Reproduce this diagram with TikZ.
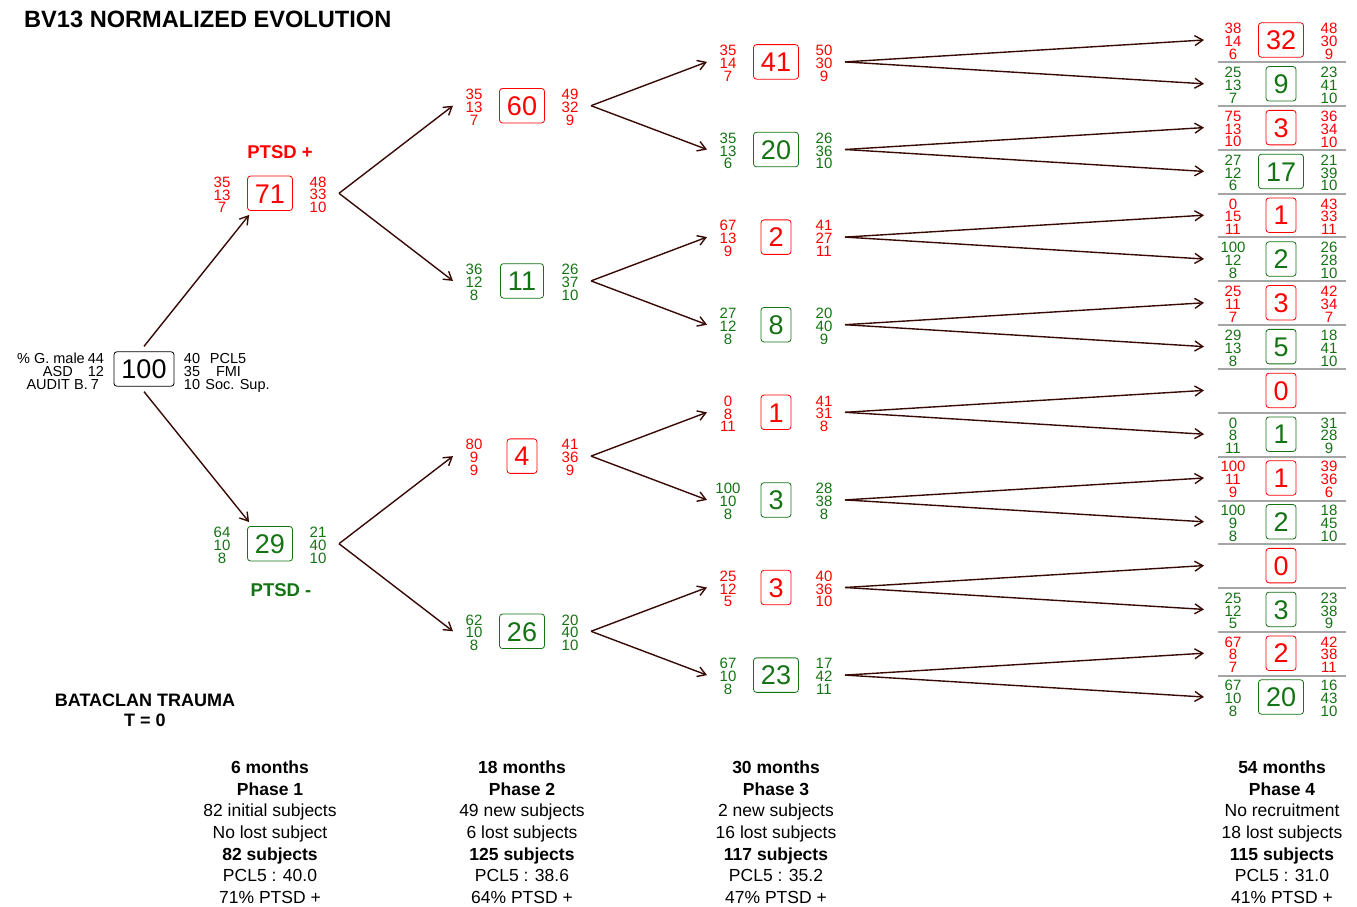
\documentclass[tikz,border=0pt]{standalone}
\usepackage{fontspec}
\setmainfont{Liberation Sans}
\usetikzlibrary{arrows.meta}
\definecolor{pred}{RGB}{255,0,0}
\definecolor{pgreen}{RGB}{20,115,20}
\definecolor{arrc}{RGB}{55,10,5}
\definecolor{sepc}{RGB}{165,165,165}
\tikzset{
  numbox/.style={draw=#1, text=#1, rounded corners=3pt, line width=0.8pt,
    font=\fontsize{27}{27}\selectfont, inner xsep=7.5pt, inner ysep=7.5pt,
    text height=19.5pt, text depth=0pt},
  numcol/.style={text=#1, font=\fontsize{15}{12.8}\selectfont, align=center, inner sep=0pt},
  arr/.style={draw=arrc, line width=1.4pt, -{Straight Barb[length=8pt,width=10pt]}},
  sepline/.style={draw=sepc, line width=2pt},
  lab/.style={font=\fontsize{14.5}{14.5}\selectfont, inner sep=0pt},
  bottomtxt/.style={font=\fontsize{17.5}{21.7}\selectfont, align=center, inner sep=0pt},
  ptsd/.style={text=#1, font=\bfseries\fontsize{18.5}{18.5}\selectfont, inner sep=0pt},
}
\newcommand\mknode[7]{%
  \node[numbox=#4] (#1) at (#2,#3) {#5};
  \path (#1.center) ++(-48,1.5) node[numcol=#4] (#1-l) {#6};
  \path (#1.center) ++(48,1.5) node[numcol=#4] (#1-r) {#7};
}
\begin{document}
\begin{tikzpicture}[x=1pt,y=-1pt]
\useasboundingbox (0,0) rectangle (1357,907);
% title
\node[anchor=base west, inner sep=0pt, font=\bfseries\fontsize{23.6}{23.6}\selectfont] (title) at (24,28) {BV13 NORMALIZED EVOLUTION};
% root
\node[numbox=black] (root) at (144,369) {100};
\node[lab, anchor=base east] (rl1) at (85,363) {\% G. male};
\node[lab, anchor=base east] (rl2) at (73,376) {ASD};
\node[lab, anchor=base east] (rl3) at (88,389) {AUDIT B.};
\node[lab, anchor=base] (rn1) at (96,363) {44};
\node[lab, anchor=base] (rn2) at (96,376) {12};
\node[lab, anchor=base] (rn3) at (95,389) {7};
\node[lab, anchor=base] (rm1) at (192,363) {40};
\node[lab, anchor=base] (rm2) at (192,376) {35};
\node[lab, anchor=base] (rm3) at (192,389) {10};
\node[lab, anchor=base] (rk1) at (228,363) {PCL5};
\node[lab, anchor=base] (rk2) at (228.5,376) {FMI};
\node[lab, anchor=base] (rk3) at (237.5,389) {Soc. Sup.};
% phase 1
\mknode{a}{270}{193.3}{pred}{71}{35\\13\\7}{48\\33\\10}
\mknode{b}{270}{543.7}{pgreen}{29}{64\\10\\8}{21\\40\\10}
\node[ptsd=pred] (plus) at (280,152) {PTSD +};
\node[ptsd=pgreen] (minus) at (281,590) {PTSD -};
% phase 2
\mknode{aa}{522}{105.7}{pred}{60}{35\\13\\7}{49\\32\\9}
\mknode{ab}{522}{280.9}{pgreen}{11}{36\\12\\8}{26\\37\\10}
\mknode{ba}{522}{456.1}{pred}{4}{80\\9\\9}{41\\36\\9}
\mknode{bb}{522}{631.3}{pgreen}{26}{62\\10\\8}{20\\40\\10}
% phase 3
\mknode{aaa}{776}{61.9}{pred}{41}{35\\14\\7}{50\\30\\9}
\mknode{aab}{776}{149.5}{pgreen}{20}{35\\13\\6}{26\\36\\10}
\mknode{aba}{776}{237.1}{pred}{2}{67\\13\\9}{41\\27\\11}
\mknode{abb}{776}{324.7}{pgreen}{8}{27\\12\\8}{20\\40\\9}
\mknode{baa}{776}{412.3}{pred}{1}{0\\8\\11}{41\\31\\8}
\mknode{bab}{776}{499.9}{pgreen}{3}{100\\10\\8}{28\\38\\8}
\mknode{bba}{776}{587.5}{pred}{3}{25\\12\\5}{40\\36\\10}
\mknode{bbb}{776}{675.1}{pgreen}{23}{67\\10\\8}{17\\42\\11}
% phase 4
\mknode{aaaa}{1281}{40}{pred}{32}{38\\14\\6}{48\\30\\9}
\mknode{aaab}{1281}{83.8}{pgreen}{9}{25\\13\\7}{23\\41\\10}
\mknode{aaba}{1281}{127.6}{pred}{3}{75\\13\\10}{36\\34\\10}
\mknode{aabb}{1281}{171.4}{pgreen}{17}{27\\12\\6}{21\\39\\10}
\mknode{abaa}{1281}{215.2}{pred}{1}{0\\15\\11}{43\\33\\11}
\mknode{abab}{1281}{259}{pgreen}{2}{100\\12\\8}{26\\28\\10}
\mknode{abba}{1281}{302.8}{pred}{3}{25\\11\\7}{42\\34\\7}
\mknode{abbb}{1281}{346.6}{pgreen}{5}{29\\13\\8}{18\\41\\10}
\node[numbox=pred] (baaa) at (1281,390.4) {0};
\mknode{baab}{1281}{434.2}{pgreen}{1}{0\\8\\11}{31\\28\\9}
\mknode{baba}{1281}{478}{pred}{1}{100\\11\\9}{39\\36\\6}
\mknode{babb}{1281}{521.8}{pgreen}{2}{100\\9\\8}{18\\45\\10}
\node[numbox=pred] (bbaa) at (1281,565.6) {0};
\mknode{bbab}{1281}{609.4}{pgreen}{3}{25\\12\\5}{23\\38\\9}
\mknode{bbba}{1281}{653.2}{pred}{2}{67\\8\\7}{42\\38\\11}
\mknode{bbbb}{1281}{697}{pgreen}{20}{67\\10\\8}{16\\43\\10}
% separators
\foreach \k in {0,...,14} \draw[sepline] (1218,{62+43.86*\k}) -- (1346,{62+43.86*\k});
% arrows
\draw[arr] ([yshift=5pt]root.north) -- ([shift={(2pt,-4pt)}]a.south west);
\draw[arr] ([yshift=-5pt]root.south) -- ([shift={(2pt,4pt)}]b.north west);
\foreach \p/\c in {a/aa,a/ab,b/ba,b/bb,aa/aaa,aa/aab,ab/aba,ab/abb,ba/baa,ba/bab,bb/bba,bb/bbb}
  \draw[arr] ([xshift=69pt]\p.center) -- ([xshift=-69pt]\c.center);
\foreach \p/\c in {aaa/aaaa,aaa/aaab,aab/aaba,aab/aabb,aba/abaa,aba/abab,abb/abba,abb/abbb,baa/baaa,baa/baab,bab/baba,bab/babb,bba/bbaa,bba/bbab,bbb/bbba,bbb/bbbb}
  \draw[arr] ([xshift=69pt]\p.center) -- ([xshift=-77pt]\c.center);
% bottom texts
\node[font=\bfseries\fontsize{18}{20}\selectfont, align=center, inner sep=0pt] (bat) at (145,710) {BATACLAN TRAUMA\\T = 0};
\node[bottomtxt, anchor=north] (c1) at (270,760.5) {\textbf{6 months}\\\textbf{Phase 1}\\82 initial subjects\\No lost subject\\\textbf{82 subjects}\\PCL5 : 40.0\\71\% PTSD +};
\node[bottomtxt, anchor=north] (c2) at (522,760.5) {\textbf{18 months}\\\textbf{Phase 2}\\49 new subjects\\6 lost subjects\\\textbf{125 subjects}\\PCL5 : 38.6\\64\% PTSD +};
\node[bottomtxt, anchor=north] (c3) at (776,760.5) {\textbf{30 months}\\\textbf{Phase 3}\\2 new subjects\\16 lost subjects\\\textbf{117 subjects}\\PCL5 : 35.2\\47\% PTSD +};
\node[bottomtxt, anchor=north] (c4) at (1282,760.5) {\textbf{54 months}\\\textbf{Phase 4}\\No recruitment\\18 lost subjects\\\textbf{115 subjects}\\PCL5 : 31.0\\41\% PTSD +};
\end{tikzpicture}
\end{document}
